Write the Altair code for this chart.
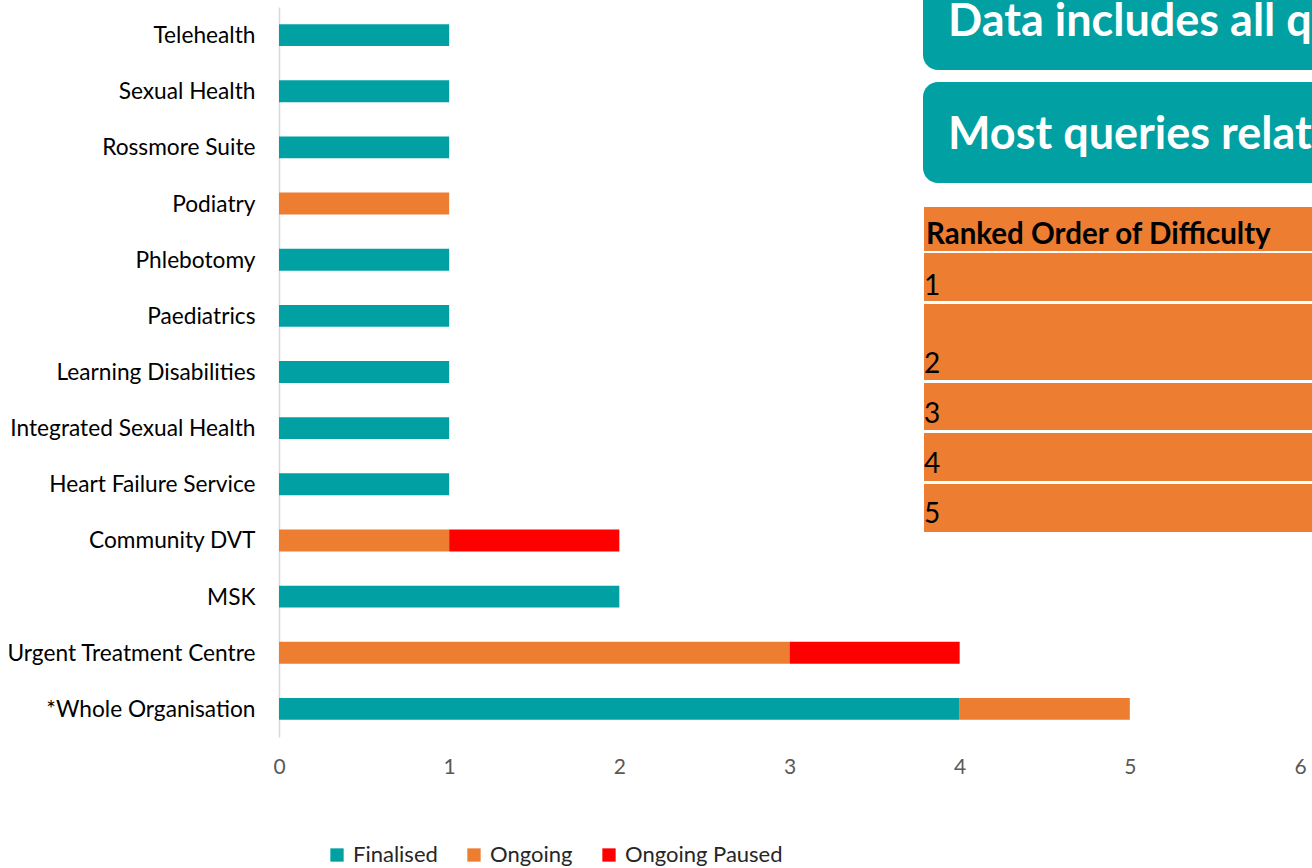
import altair as alt
import pandas as pd

# ---------------- data ----------------
categories = [
    "Telehealth", "Sexual Health", "Rossmore Suite", "Podiatry", "Phlebotomy",
    "Paediatrics", "Learning Disabilities", "Integrated Sexual Health",
    "Heart Failure Service", "Community DVT", "MSK", "Urgent Treatment Centre",
    "*Whole Organisation",
]
finalised = [1, 1, 1, 0, 1, 1, 1, 1, 1, 0, 2, 0, 4]
ongoing = [0, 0, 0, 1, 0, 0, 0, 0, 0, 1, 0, 3, 1]
ongoing_paused = [0, 0, 0, 0, 0, 0, 0, 0, 0, 1, 0, 1, 0]
statuses = ["Finalised", "Ongoing", "Ongoing Paused"]
status_colors = ["#00A0A3", "#ED7D31", "#FF0000"]
x_ticks = [0, 1, 2, 3, 4, 5, 6]

note_texts = ["Data includes all queries", "Most queries related to"]
table_header = "Ranked Order of Difficulty"
table_ranks = ["1", "2", "3", "4", "5"]

# ---------------- long table ----------------
rows = []
for i, cat in enumerate(categories):
    for s, series in zip(statuses, [finalised, ongoing, ongoing_paused]):
        if series[i]:
            rows.append({"category": cat, "status": s, "value": series[i],
                         "order": statuses.index(s)})
df = pd.DataFrame(rows)

FONT = "Lato"
W, H = 1021, 730
OX, OY = 279, 7  # plot origin in page pixels

bars = alt.Chart(df).mark_bar().encode(
    y=alt.Y("category:N", sort=categories,
            scale=alt.Scale(paddingInner=0.61, paddingOuter=0.305),
            axis=alt.Axis(title=None, ticks=False, grid=False,
                          domainColor="#D9D9D9", domainWidth=1.5,
                          labelFont=FONT, labelFontSize=22.7, labelColor="#000000",
                          labelPadding=24, labelLimit=320, labelBaseline="middle",
                          labelOffset=1)),
    x=alt.X("value:Q", stack="zero",
            scale=alt.Scale(domain=[0, 6], nice=False),
            axis=alt.Axis(title=None, values=x_ticks, ticks=False, domain=False,
                          grid=False, labelFont=FONT, labelFontSize=21,
                          labelColor="#595959", labelPadding=19, format="d",
                          labelFlush=False)),
    color=alt.Color("status:N", sort=statuses,
                    scale=alt.Scale(domain=statuses, range=status_colors),
                    legend=alt.Legend(orient="none", legendX=47, legendY=837,
                                      direction="horizontal", title=None,
                                      symbolType="square", symbolSize=177,
                                      symbolStrokeWidth=0, labelFont=FONT,
                                      labelFontSize=22, labelColor="#262626",
                                      columnPadding=25, labelOffset=5, padding=0)),
    order=alt.Order("order:Q"),
)

layers = [bars]


def one():
    return pd.DataFrame({"k": [1]})


# teal note boxes
note_boxes = [(-20, 70), (82, 183)]
note_baselines = [36, 149]
for (t, b), base, txt in zip(note_boxes, note_baselines, note_texts):
    layers.append(
        alt.Chart(one()).mark_rect(color="#00A0A3", cornerRadius=15).encode(
            x=alt.value(923 - OX), x2=alt.value(1400 - OX),
            y=alt.value(t - OY), y2=alt.value(b - OY))
    )
    layers.append(
        alt.Chart(pd.DataFrame({"t": [txt]})).mark_text(
            align="left", baseline="alphabetic", font=FONT, fontSize=45,
            fontWeight="bold", color="white").encode(
            x=alt.value(948 - OX), y=alt.value(base - OY), text="t:N")
    )

# orange table
table_rows = [(207, 251), (253, 301), (304, 380), (383, 430), (433, 481), (484, 532)]
for (t, b) in table_rows:
    layers.append(
        alt.Chart(one()).mark_rect(color="#ED7D31").encode(
            x=alt.value(924 - OX), x2=alt.value(1400 - OX),
            y=alt.value(t - OY), y2=alt.value(b - OY))
    )
layers.append(
    alt.Chart(pd.DataFrame({"t": [table_header]})).mark_text(
        align="left", baseline="alphabetic", font=FONT, fontSize=29.5,
        fontWeight="bold", color="#000000").encode(
        x=alt.value(926 - OX), y=alt.value(244 - OY), text="t:N")
)
rank_baselines = [295, 373, 423, 473, 523]
for r, base in zip(table_ranks, rank_baselines):
    layers.append(
        alt.Chart(pd.DataFrame({"t": [r]})).mark_text(
            align="left", baseline="alphabetic", font=FONT, fontSize=28,
            color="#000000").encode(
            x=alt.value(924 - OX), y=alt.value(base - OY), text="t:N")
    )

chart = alt.layer(*layers).properties(
    width=W, height=H,
    autosize=alt.AutoSizeParams(type="none"),
    padding={"left": OX, "top": OY, "right": 1312 - OX - W, "bottom": 868 - OY - H},
).configure_view(stroke=None)

chart.save("out.html", embed_options={"renderer": "svg", "actions": False})
